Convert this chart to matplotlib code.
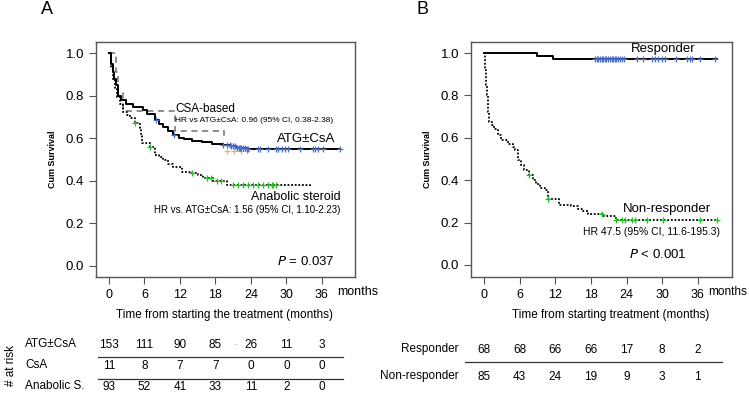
import numpy as np
import matplotlib
matplotlib.use("Agg")
import matplotlib.pyplot as plt
import matplotlib.transforms as mtransforms

plt.rcParams['font.family'] = ['Liberation Sans', 'DejaVu Sans']

# ---- Panel A data (Kaplan-Meier steps) ----
atg_t = [0, 0.3, 0.6, 0.9, 1.2, 1.45, 2.0, 2.9, 4.0, 5.7, 6.5, 7.7, 8.4, 9.1, 10.0, 10.8,
         11.8, 12.7, 14.0, 15.8, 17.5, 19.2, 20.5, 21.5, 23.3, 39.0]
atg_s = [1.0, 0.95, 0.91, 0.88, 0.85, 0.80, 0.778, 0.762, 0.746, 0.731, 0.715, 0.684, 0.668,
         0.653, 0.632, 0.614, 0.602, 0.595, 0.588, 0.582, 0.574, 0.568, 0.562, 0.556, 0.548, 0.548]
atg_cens = [8.0, 11.0, 19.3, 19.9, 20.4, 20.7, 21.0, 21.3, 21.6, 21.9, 22.1, 22.4, 22.7, 23.0,
            23.3, 23.5, 25.2, 25.5, 26.9, 28.3, 28.6, 29.2, 29.7, 30.3, 32.3, 34.5, 34.8,
            35.3, 36.2, 39.0]

ana_t = [0, 0.4, 0.7, 1.0, 1.3, 1.8, 2.4, 3.0, 3.5, 4.4, 5.2, 5.35, 5.5, 6.9, 7.8, 8.5, 9.2,
         10.0, 10.9, 12.3, 14.0, 15.0, 15.9, 17.6, 19.9, 34.0]
ana_s = [1.0, 0.93, 0.873, 0.83, 0.795, 0.76, 0.725, 0.71, 0.693, 0.67, 0.646, 0.61, 0.576,
         0.56, 0.521, 0.51, 0.498, 0.48, 0.467, 0.443, 0.438, 0.425, 0.412, 0.397, 0.38, 0.375]
ana_cens = [4.4, 6.9, 14.0, 16.5, 17.3, 18.2, 19.0, 21.0, 21.8, 22.7, 23.5, 24.4, 25.2, 26.1,
            26.9, 27.5, 27.8, 28.3]

csa_t = [0, 1.2, 1.5, 2.3, 11.2, 19.4]
csa_s = [1.0, 0.909, 0.818, 0.727, 0.636, 0.636]
csa_cens = [20.0, 21.2, 22.3, 23.4]

# ---- Panel B data ----
resp_t = [0, 8.9, 11.6, 39.2]
resp_s = [1.0, 0.986, 0.97, 0.97]
resp_cens = [18.7, 19.0, 19.25, 19.5, 19.8, 20.1, 20.4, 20.6, 20.9, 21.2, 21.5, 21.8, 22.0,
             22.3, 22.6, 22.9, 23.2, 23.5, 25.7, 26.8, 28.2, 28.8, 29.3, 29.9, 30.5, 32.4,
             34.1, 34.7, 35.0, 36.4, 38.9]

nr_t = [0, 0.15, 0.33, 0.45, 0.6, 0.75, 0.9, 1.3, 1.7, 2.3, 2.9, 4.0, 4.8, 5.2, 5.7, 6.2, 6.8,
        7.6, 8.2, 8.75, 9.5, 10.2, 10.7, 12.7, 14.6, 15.8, 16.6, 17.5, 20.0, 22.3, 39.2]
nr_s = [1.0, 0.92, 0.848, 0.80, 0.769, 0.72, 0.675, 0.66, 0.643, 0.615, 0.588, 0.572, 0.555,
        0.541, 0.494, 0.47, 0.447, 0.423, 0.40, 0.384, 0.365, 0.352, 0.313, 0.282, 0.278,
        0.266, 0.255, 0.242, 0.231, 0.212, 0.212]
nr_cens = [7.6, 10.7, 19.8, 22.3, 23.2, 23.7, 24.9, 25.4, 27.4, 30.2, 36.4, 39.2]

# ---- numbers at risk ----
risk_times = [0, 6, 12, 18, 24, 30, 36]
risk_a_labels = ['ATG±CsA', 'CsA', 'Anabolic S.']
risk_a = [[153, 111, 90, 85, 26, 11, 3],
          [11, 8, 7, 7, 0, 0, 0],
          [93, 52, 41, 33, 11, 2, 0]]
risk_b_labels = ['Responder', 'Non-responder']
risk_b = [[68, 68, 66, 66, 17, 8, 2],
          [85, 43, 24, 19, 9, 3, 1]]

BLUE = '#4a6fd0'
GREEN = '#22c022'
TAN = '#d8b870'
DOT = (0, (1, 1))

W, H = 749, 405
fig = plt.figure(figsize=(W / 100, H / 100), dpi=100)


def fy(py):
    return 1 - py / H


def km_at(t, s, x):
    i = np.searchsorted(t, x, side='right') - 1
    return np.array(s)[np.clip(i, 0, len(s) - 1)]


def style_axes(ax):
    for side in ['top', 'right', 'left', 'bottom']:
        ax.spines[side].set_color('#555555')
        ax.spines[side].set_linewidth(1.0)
    ax.set_xticks(risk_times)
    ax.set_yticks([0, 0.2, 0.4, 0.6, 0.8, 1.0])
    ax.set_yticklabels(['0.0', '0.2', '0.4', '0.6', '0.8', '1.0'])
    ax.tick_params(axis='both', direction='out', length=5, color='#555555', labelsize=9.5)
    ax.tick_params(axis='x', labelsize=9)
    ax.set_ylabel('Cum Survival', fontsize=6.5, fontweight='bold', labelpad=6)


# ===================== Panel A =====================
axA = fig.add_axes([96 / W, fy(277), 259 / W, 235 / H])
axA.step(csa_t, csa_s, where='post', color='#707070', lw=1.1, dashes=(4, 3))
axA.plot([19.4, 19.4], [0.636, 0.615], color='#707070', lw=1.1)
axA.step(atg_t, atg_s, where='post', color='black', lw=1.4)
axA.step(ana_t, ana_s, where='post', color='black', lw=1.3, ls=DOT)
axA.plot(csa_cens, [0.542] * len(csa_cens), ls='none', marker='+', ms=4, mew=0.9, color=TAN)
axA.plot(atg_cens, km_at(atg_t, atg_s, atg_cens), ls='none', marker='+', ms=4.5, mew=0.9, color=BLUE)
axA.plot(ana_cens, km_at(ana_t, ana_s, ana_cens), ls='none', marker='+', ms=4.5, mew=0.9, color=GREEN)
axA.set_xlim(-2.2, 41.6)
axA.set_ylim(-0.052, 1.052)
style_axes(axA)

axA.text(11.2, 0.735, 'CSA-based', fontsize=8.5, va='center', ha='left')
axA.text(11.2, 0.685, 'HR vs ATG±CsA: 0.96 (95% CI, 0.38-2.38)', fontsize=6, va='center', ha='left')
axA.text(38.2, 0.595, 'ATG±CsA', fontsize=9.5, va='center', ha='right')
axA.text(39.2, 0.324, 'Anabolic steroid', fontsize=9, va='center', ha='right')
axA.text(39.2, 0.264, 'HR vs. ATG±CsA: 1.56 (95% CI, 1.10-2.23)', fontsize=7, va='center', ha='right')
axA.text(38.2, 0.02, '$\\it{P}$ = 0.037', fontsize=9.5, va='center', ha='right')

trA = mtransforms.blended_transform_factory(axA.transData, fig.transFigure)
fig.text(337 / W, fy(292), 'months', fontsize=9, va='center', ha='left')
fig.text(225 / W, fy(315), 'Time from starting the treatment (months)', fontsize=8.5,
         va='center', ha='center')
fig.text(47 / W, fy(10), 'A', fontsize=13, va='center', ha='center')
fig.text(11 / W, fy(366), '# at risk', fontsize=8.5, rotation=90, va='center', ha='center')

row_y_a = [345, 366, 387]
for lab, vals, py in zip(risk_a_labels, risk_a, row_y_a):
    fig.text(25 / W, fy(py - 1), lab, fontsize=8.5, va='center', ha='left')
    for t, v in zip(risk_times, vals):
        fig.text(t, fy(py), str(v), fontsize=8.5, va='center', ha='center', transform=trA)
for py in [357, 379]:
    fig.add_artist(plt.Line2D([98 / W, 343 / W], [fy(py), fy(py)], color='#333333', lw=0.9))
fig.text(235 / W, fy(344), '-', fontsize=7, color='#bbbbbb', va='center', ha='center')

# ===================== Panel B =====================
axB = fig.add_axes([471 / W, fy(277), 261 / W, 235 / H])
axB.step(resp_t, resp_s, where='post', color='black', lw=1.4)
axB.step(nr_t, nr_s, where='post', color='black', lw=1.3, ls=DOT)
axB.plot(resp_cens, km_at(resp_t, resp_s, resp_cens), ls='none', marker='+', ms=4.5, mew=0.9, color=BLUE)
axB.plot(nr_cens, km_at(nr_t, nr_s, nr_cens), ls='none', marker='+', ms=4.5, mew=0.9, color=GREEN)
axB.set_xlim(-2.19, 41.75)
axB.set_ylim(-0.057, 1.052)
style_axes(axB)

axB.text(30.2, 1.02, 'Responder', fontsize=9.5, va='center', ha='center')
axB.text(38.2, 0.265, 'Non-responder', fontsize=9.5, va='center', ha='right')
axB.text(39.7, 0.155, 'HR 47.5 (95% CI, 11.6-195.3)', fontsize=7.5, va='center', ha='right')
axB.text(29.3, 0.047, '$\\it{P}$ < 0.001', fontsize=9.5, va='center', ha='center')

trB = mtransforms.blended_transform_factory(axB.transData, fig.transFigure)
fig.text(708 / W, fy(292), 'months', fontsize=8.5, va='center', ha='left')
fig.text(611 / W, fy(315), 'Time from starting treatment (months)', fontsize=8.5,
         va='center', ha='center')
fig.text(422 / W, fy(10), 'B', fontsize=13, va='center', ha='center')

row_y_b = [350, 377]
for lab, vals, py in zip(risk_b_labels, risk_b, row_y_b):
    fig.text(459 / W, fy(py - 1), lab, fontsize=8.5, va='center', ha='right')
    for t, v in zip(risk_times, vals):
        fig.text(t, fy(py), str(v), fontsize=8.5, va='center', ha='center', transform=trB)
fig.add_artist(plt.Line2D([465 / W, 722 / W], [fy(362), fy(362)], color='#333333', lw=0.9))

fig.savefig('out.png', dpi=100)
